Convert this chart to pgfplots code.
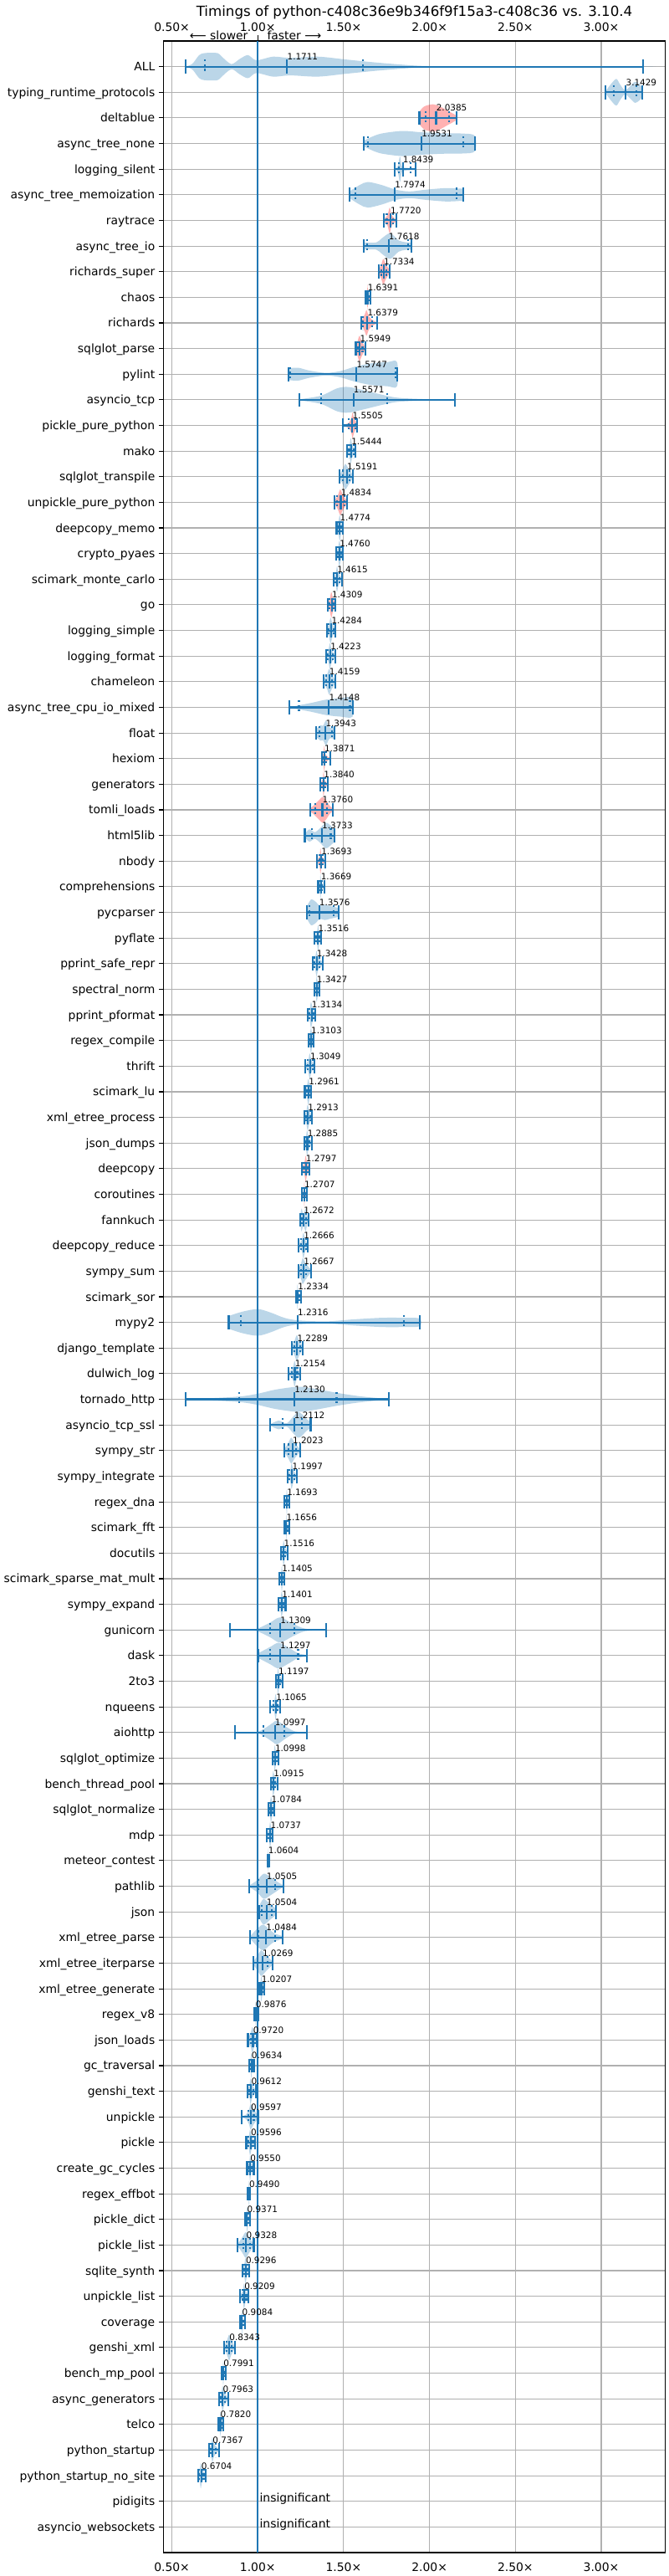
\documentclass[border=0pt]{standalone}
\usepackage{fontspec}
\setmainfont{DejaVu Sans}
\usepackage{pgfplots}
\pgfplotsset{compat=1.18}
\usepackage{pgfplotstable}
\definecolor{cz}{HTML}{1F77B4}
\definecolor{gridc}{HTML}{B0B0B0}
\definecolor{vred}{HTML}{FF0000}

% violin body: row, colour, list of value/halfwidth pairs (left to right)
\newcommand\vio[3]{%
  \gdef\vup{}\gdef\vdn{}%
  \foreach \vx/\vw in {#3}{%
    \pgfmathsetmacro\yu{#1-\vw}\pgfmathsetmacro\yd{#1+\vw}%
    \xdef\vup{\vup(\vx,\yu)}\xdef\vdn{(\vx,\yd)\vdn}%
  }%
  \edef\vtmp{\noexpand\addplot[draw=none, mark=none, fill=#2, fill opacity=0.3, smooth, forget plot] coordinates {\vup\vdn};}%
  \vtmp}

\pgfplotstableread{
r mn q1 md q3 mx lab
1 0.580 0.692 1.1711 1.612 3.242 1.1711
2 3.026 3.074 3.1429 3.203 3.240 3.1429
3 1.941 1.976 2.0385 2.114 2.157 2.0385
4 1.615 1.642 1.9531 2.195 2.264 1.9531
5 1.798 1.822 1.8439 1.892 1.920 1.8439
6 1.534 1.568 1.7974 2.157 2.195 1.7974
7 1.732 1.751 1.7720 1.789 1.808 1.7720
8 1.617 1.638 1.7618 1.873 1.894 1.7618
9 1.704 1.718 1.7334 1.748 1.770 1.7334
10 1.627 1.635 1.6391 1.648 1.656 1.6391
11 1.603 1.613 1.6379 1.665 1.695 1.6379
12 1.571 1.582 1.5949 1.610 1.627 1.5949
13 1.180 1.187 1.5747 1.800 1.811 1.5747
14 1.242 1.369 1.5571 1.752 2.147 1.5571
15 1.495 1.530 1.5505 1.567 1.578 1.5505
16 1.521 1.532 1.5444 1.558 1.570 1.5444
17 1.476 1.497 1.5191 1.536 1.554 1.5191
18 1.448 1.462 1.4834 1.503 1.521 1.4834
19 1.459 1.468 1.4774 1.487 1.496 1.4774
20 1.456 1.466 1.4760 1.487 1.496 1.4760
21 1.443 1.452 1.4615 1.475 1.489 1.4615
22 1.407 1.418 1.4309 1.443 1.453 1.4309
23 1.401 1.414 1.4284 1.442 1.453 1.4284
24 1.399 1.410 1.4223 1.436 1.451 1.4223
25 1.383 1.398 1.4159 1.432 1.451 1.4159
26 1.183 1.240 1.4148 1.537 1.552 1.4148
27 1.339 1.357 1.3943 1.433 1.448 1.3943
28 1.372 1.380 1.3871 1.400 1.422 1.3871
29 1.365 1.373 1.3840 1.395 1.409 1.3840
30 1.304 1.335 1.3760 1.403 1.437 1.3760
31 1.274 1.314 1.3733 1.425 1.448 1.3733
32 1.346 1.357 1.3693 1.380 1.393 1.3693
33 1.352 1.360 1.3669 1.375 1.388 1.3669
34 1.284 1.302 1.3576 1.443 1.471 1.3576
35 1.331 1.342 1.3516 1.361 1.370 1.3516
36 1.320 1.332 1.3428 1.360 1.380 1.3428
37 1.328 1.336 1.3427 1.351 1.360 1.3427
38 1.289 1.300 1.3134 1.325 1.336 1.3134
39 1.294 1.302 1.3103 1.318 1.326 1.3103
40 1.278 1.292 1.3049 1.318 1.331 1.3049
41 1.274 1.285 1.2961 1.304 1.312 1.2961
42 1.270 1.281 1.2913 1.304 1.317 1.2913
43 1.270 1.279 1.2885 1.300 1.314 1.2885
44 1.257 1.269 1.2797 1.290 1.302 1.2797
45 1.257 1.264 1.2707 1.278 1.286 1.2707
46 1.245 1.256 1.2672 1.282 1.297 1.2672
47 1.239 1.253 1.2666 1.280 1.292 1.2666
48 1.236 1.252 1.2667 1.282 1.312 1.2667
49 1.221 1.227 1.2334 1.242 1.252 1.2334
50 0.831 0.901 1.2316 1.851 1.943 1.2316
51 1.197 1.213 1.2289 1.246 1.263 1.2289
52 1.180 1.200 1.2154 1.230 1.248 1.2154
53 0.578 0.891 1.2130 1.459 1.763 1.2130
54 1.071 1.143 1.2112 1.255 1.308 1.2112
55 1.153 1.180 1.2023 1.222 1.248 1.2023
56 1.172 1.186 1.1997 1.212 1.226 1.1997
57 1.156 1.162 1.1693 1.175 1.182 1.1693
58 1.156 1.161 1.1656 1.172 1.182 1.1656
59 1.133 1.143 1.1516 1.161 1.172 1.1516
60 1.125 1.133 1.1405 1.146 1.153 1.1405
61 1.120 1.131 1.1401 1.150 1.162 1.1401
62 0.838 1.070 1.1309 1.213 1.398 1.1309
63 1.005 1.073 1.1297 1.235 1.284 1.1297
64 1.104 1.112 1.1197 1.130 1.145 1.1197
65 1.072 1.093 1.1065 1.117 1.130 1.1065
66 0.867 1.031 1.0997 1.156 1.286 1.0997
67 1.085 1.092 1.0998 1.109 1.119 1.0998
68 1.075 1.083 1.0915 1.102 1.114 1.0915
69 1.060 1.069 1.0784 1.088 1.098 1.0784
70 1.054 1.064 1.0737 1.080 1.086 1.0737
71 1.056 1.058 1.0604 1.064 1.069 1.0604
72 0.948 1.003 1.0505 1.101 1.150 1.0505
73 1.007 1.021 1.0504 1.081 1.106 1.0504
74 0.957 1.005 1.0484 1.100 1.145 1.0484
75 0.973 1.000 1.0269 1.057 1.087 1.0269
76 1.009 1.014 1.0207 1.030 1.038 1.0207
77 0.981 0.984 0.9876 0.994 1.003 0.9876
78 0.943 0.958 0.9720 0.982 0.992 0.9720
79 0.948 0.955 0.9634 0.970 0.977 0.9634
80 0.940 0.950 0.9612 0.975 0.989 0.9612
81 0.905 0.945 0.9597 0.977 1.002 0.9597
82 0.933 0.945 0.9596 0.972 0.985 0.9596
83 0.938 0.946 0.9550 0.966 0.977 0.9550
84 0.940 0.944 0.9490 0.953 0.957 0.9490
85 0.924 0.931 0.9371 0.946 0.957 0.9371
86 0.884 0.915 0.9328 0.955 0.977 0.9328
87 0.909 0.920 0.9296 0.940 0.951 0.9296
88 0.898 0.910 0.9209 0.933 0.946 0.9209
89 0.898 0.903 0.9084 0.915 0.924 0.9084
90 0.805 0.820 0.8343 0.850 0.866 0.8343
91 0.788 0.793 0.7991 0.806 0.814 0.7991
92 0.776 0.786 0.7963 0.810 0.830 0.7963
93 0.771 0.776 0.7820 0.790 0.800 0.7820
94 0.717 0.727 0.7367 0.755 0.773 0.7367
95 0.651 0.660 0.6704 0.685 0.699 0.6704
}\stats

\begin{document}
\begin{tikzpicture}
\begin{axis}[
  name=ax,
  scale only axis, width=432.4pt, height=2161.4pt,
  xmin=0.45, xmax=3.374, ymin=0, ymax=98, y dir=reverse,
  xtick={0.5,1,1.5,2,2.5,3},
  xticklabels={0.50×,1.00×,1.50×,2.00×,2.50×,3.00×},
  ytick={1,...,97},
  yticklabels={ALL, typing\_runtime\_protocols, deltablue, async\_tree\_none, logging\_silent, async\_tree\_memoization, raytrace, async\_tree\_io, richards\_super, chaos, richards, sqlglot\_parse, pylint, asyncio\_tcp, pickle\_pure\_python, mako, sqlglot\_transpile, unpickle\_pure\_python, deepcopy\_memo, crypto\_pyaes, scimark\_monte\_carlo, go, logging\_simple, logging\_format, chameleon, async\_tree\_cpu\_io\_mixed, float, hexiom, generators, tomli\_loads, html5lib, nbody, comprehensions, pycparser, pyflate, pprint\_safe\_repr, spectral\_norm, pprint\_pformat, regex\_compile, thrift, scimark\_lu, xml\_etree\_process, json\_dumps, deepcopy, coroutines, fannkuch, deepcopy\_reduce, sympy\_sum, scimark\_sor, mypy2, django\_template, dulwich\_log, tornado\_http, asyncio\_tcp\_ssl, sympy\_str, sympy\_integrate, regex\_dna, scimark\_fft, docutils, scimark\_sparse\_mat\_mult, sympy\_expand, gunicorn, dask, 2to3, nqueens, aiohttp, sqlglot\_optimize, bench\_thread\_pool, sqlglot\_normalize, mdp, meteor\_contest, pathlib, json, xml\_etree\_parse, xml\_etree\_iterparse, xml\_etree\_generate, regex\_v8, json\_loads, gc\_traversal, genshi\_text, unpickle, pickle, create\_gc\_cycles, regex\_effbot, pickle\_dict, pickle\_list, sqlite\_synth, unpickle\_list, coverage, genshi\_xml, bench\_mp\_pool, async\_generators, telco, python\_startup, python\_startup\_no\_site, pidigits, asyncio\_websockets},
  grid=major, major grid style={draw=gridc, line width=0.8pt},
  axis line style={line width=0.8pt, black},
  xtick style={draw=none}, xtick align=inside,
  ytick pos=left, xtick pos=left,
  ytick style={draw=black, line width=0.8pt}, ytick align=outside,
  major tick length=3.5pt,
  tick label style={font=\fontsize{10}{12}\selectfont},
  xticklabel style={anchor=north, inner sep=0pt, yshift=-8.6pt},
  yticklabel style={anchor=base east, inner sep=0pt, xshift=-3.5pt, yshift=-3.6pt},
]
% violin bodies
\vio{1}{cz}{0.580/0.005, 0.619/0.11, 0.659/0.45, 0.692/0.53, 0.765/0.53, 0.789/0.4, 0.846/0.1, 0.895/0.3, 0.943/0.45, 0.992/0.25, 1.09/0.39, 1.187/0.34, 1.349/0.39, 1.511/0.28, 1.674/0.17, 1.836/0.08, 1.95/0.03, 2.1/0.01, 2.5/0.005, 3.242/0.005}
\vio{2}{cz}{3.026/0.05, 3.06/0.35, 3.088/0.52, 3.11/0.3, 3.138/0.08, 3.17/0.25, 3.196/0.41, 3.225/0.3, 3.240/0.12}
\vio{3}{vred}{1.941/0.25, 1.97/0.45, 2.02/0.53, 2.06/0.45, 2.10/0.3, 2.157/0.08}
\vio{4}{cz}{1.615/0.1, 1.66/0.25, 1.72/0.39, 1.84/0.49, 1.95/0.44, 2.07/0.4, 2.19/0.39, 2.264/0.3}
\vio{5}{cz}{1.798/0.02, 1.815/0.1, 1.828/0.5, 1.84/0.1, 1.87/0.05, 1.92/0.03}
\vio{6}{cz}{1.534/0.13, 1.593/0.38, 1.641/0.5, 1.722/0.38, 1.803/0.2, 1.884/0.13, 1.98/0.2, 2.094/0.26, 2.175/0.24, 2.195/0.2}
\vio{7}{vred}{1.732/0.03, 1.755/0.2, 1.768/0.5, 1.78/0.2, 1.808/0.02}
\vio{8}{cz}{1.617/0.14, 1.690/0.14, 1.722/0.3, 1.771/0.5, 1.82/0.22, 1.86/0.15, 1.894/0.12}
\vio{9}{vred}{1.704/0.05, 1.72/0.3, 1.731/0.5, 1.745/0.3, 1.77/0.03}
\vio{10}{vred}{1.627/0.02, 1.636/0.15, 1.639/0.5, 1.643/0.15, 1.656/0.01}
\vio{11}{vred}{1.603/0.05, 1.624/0.35, 1.633/0.5, 1.648/0.25, 1.67/0.1, 1.695/0.02}
\vio{12}{vred}{1.571/0.05, 1.584/0.35, 1.592/0.5, 1.605/0.3, 1.627/0.02}
\vio{13}{cz}{1.180/0.23, 1.236/0.25, 1.301/0.14, 1.398/0.05, 1.48/0.12, 1.56/0.28, 1.657/0.42, 1.755/0.47, 1.811/0.47}
\vio{14}{cz}{1.242/0.02, 1.368/0.16, 1.463/0.45, 1.528/0.5, 1.625/0.36, 1.722/0.2, 1.803/0.09, 1.884/0.05, 2.0/0.02, 2.147/0.005}
\vio{15}{vred}{1.495/0.02, 1.53/0.1, 1.545/0.3, 1.552/0.5, 1.56/0.3, 1.578/0.05}
\vio{16}{cz}{1.521/0.03, 1.535/0.25, 1.541/0.5, 1.55/0.25, 1.570/0.03}
\vio{17}{cz}{1.476/0.05, 1.495/0.3, 1.51/0.5, 1.525/0.35, 1.554/0.05}
\vio{18}{vred}{1.448/0.05, 1.468/0.3, 1.48/0.5, 1.495/0.3, 1.521/0.03}
\vio{19}{cz}{1.459/0.03, 1.47/0.25, 1.477/0.5, 1.485/0.25, 1.496/0.03}
\vio{20}{cz}{1.456/0.03, 1.468/0.25, 1.475/0.5, 1.484/0.25, 1.496/0.03}
\vio{21}{cz}{1.443/0.03, 1.455/0.25, 1.461/0.5, 1.47/0.25, 1.489/0.03}
\vio{22}{vred}{1.407/0.03, 1.42/0.25, 1.428/0.5, 1.438/0.25, 1.453/0.03}
\vio{23}{cz}{1.401/0.03, 1.415/0.25, 1.424/0.5, 1.435/0.25, 1.453/0.03}
\vio{24}{cz}{1.399/0.03, 1.412/0.25, 1.42/0.5, 1.43/0.25, 1.451/0.03}
\vio{25}{cz}{1.383/0.05, 1.405/0.3, 1.415/0.5, 1.43/0.3, 1.451/0.05}
\vio{26}{cz}{1.183/0.005, 1.240/0.08, 1.316/0.18, 1.397/0.3, 1.479/0.36, 1.552/0.36}
\vio{27}{cz}{1.339/0.14, 1.365/0.3, 1.38/0.28, 1.397/0.49, 1.41/0.3, 1.422/0.2, 1.448/0.2}
\vio{28}{vred}{1.372/0.02, 1.382/0.2, 1.387/0.5, 1.395/0.15, 1.422/0.02}
\vio{29}{vred}{1.365/0.02, 1.378/0.2, 1.383/0.5, 1.39/0.15, 1.409/0.02}
\vio{30}{vred}{1.304/0.05, 1.33/0.2, 1.36/0.4, 1.376/0.5, 1.395/0.4, 1.42/0.15, 1.437/0.05}
\vio{31}{cz}{1.274/0.05, 1.300/0.24, 1.333/0.13, 1.365/0.3, 1.397/0.5, 1.430/0.35, 1.448/0.2}
\vio{32}{vred}{1.346/0.02, 1.36/0.2, 1.365/0.5, 1.372/0.2, 1.393/0.02}
\vio{33}{cz}{1.352/0.02, 1.362/0.2, 1.365/0.5, 1.37/0.2, 1.388/0.02}
\vio{34}{cz}{1.284/0.2, 1.31/0.5, 1.34/0.4, 1.36/0.25, 1.39/0.3, 1.42/0.25, 1.471/0.15}
\vio{35}{cz}{1.331/0.03, 1.345/0.25, 1.351/0.5, 1.358/0.25, 1.370/0.03}
\vio{36}{cz}{1.320/0.03, 1.335/0.25, 1.342/0.5, 1.352/0.25, 1.380/0.03}
\vio{37}{cz}{1.328/0.03, 1.338/0.25, 1.343/0.5, 1.35/0.25, 1.360/0.03}
\vio{38}{cz}{1.289/0.03, 1.303/0.25, 1.31/0.5, 1.32/0.25, 1.336/0.03}
\vio{39}{cz}{1.294/0.03, 1.304/0.25, 1.31/0.5, 1.316/0.25, 1.326/0.03}
\vio{40}{cz}{1.278/0.03, 1.295/0.25, 1.302/0.5, 1.312/0.25, 1.331/0.03}
\vio{41}{cz}{1.274/0.03, 1.287/0.25, 1.294/0.5, 1.302/0.25, 1.312/0.03}
\vio{42}{cz}{1.270/0.03, 1.283/0.25, 1.29/0.5, 1.3/0.25, 1.317/0.03}
\vio{43}{cz}{1.270/0.03, 1.281/0.25, 1.287/0.5, 1.296/0.25, 1.314/0.03}
\vio{44}{vred}{1.257/0.03, 1.272/0.25, 1.279/0.5, 1.287/0.25, 1.302/0.03}
\vio{45}{vred}{1.257/0.02, 1.268/0.15, 1.271/0.5, 1.275/0.15, 1.286/0.02}
\vio{46}{cz}{1.245/0.03, 1.255/0.45, 1.265/0.2, 1.279/0.45, 1.288/0.15, 1.297/0.03}
\vio{47}{cz}{1.239/0.03, 1.258/0.25, 1.265/0.5, 1.275/0.25, 1.292/0.03}
\vio{48}{cz}{1.236/0.05, 1.252/0.3, 1.262/0.5, 1.28/0.3, 1.312/0.03}
\vio{49}{cz}{1.221/0.02, 1.228/0.2, 1.231/0.5, 1.235/0.2, 1.252/0.02}
\vio{50}{cz}{0.831/0.25, 0.911/0.42, 1.0/0.52, 1.073/0.39, 1.154/0.18, 1.235/0.08, 1.398/0.04, 1.560/0.12, 1.722/0.18, 1.852/0.18, 1.943/0.15}
\vio{51}{cz}{1.197/0.05, 1.215/0.3, 1.227/0.5, 1.24/0.3, 1.263/0.03}
\vio{52}{cz}{1.180/0.03, 1.205/0.25, 1.214/0.5, 1.225/0.25, 1.248/0.03}
\vio{53}{cz}{0.578/0.03, 0.749/0.05, 0.911/0.12, 1.008/0.23, 1.105/0.38, 1.235/0.49, 1.333/0.41, 1.463/0.25, 1.593/0.12, 1.763/0.005}
\vio{54}{cz}{1.071/0.02, 1.122/0.17, 1.170/0.07, 1.235/0.5, 1.284/0.23, 1.308/0.1}
\vio{55}{cz}{1.153/0.03, 1.178/0.3, 1.195/0.5, 1.215/0.3, 1.248/0.03}
\vio{56}{cz}{1.172/0.03, 1.19/0.25, 1.197/0.5, 1.207/0.25, 1.226/0.03}
\vio{57}{cz}{1.156/0.02, 1.165/0.2, 1.169/0.5, 1.173/0.2, 1.182/0.02}
\vio{58}{cz}{1.156/0.02, 1.163/0.2, 1.166/0.5, 1.17/0.2, 1.182/0.02}
\vio{59}{cz}{1.133/0.03, 1.145/0.25, 1.15/0.5, 1.158/0.25, 1.172/0.03}
\vio{60}{cz}{1.125/0.02, 1.135/0.2, 1.14/0.5, 1.145/0.2, 1.153/0.02}
\vio{61}{cz}{1.120/0.03, 1.133/0.25, 1.139/0.5, 1.147/0.25, 1.162/0.03}
\vio{62}{cz}{0.838/0.005, 0.96/0.01, 1.008/0.08, 1.073/0.29, 1.130/0.49, 1.203/0.25, 1.276/0.05, 1.398/0.005}
\vio{63}{cz}{1.005/0.1, 1.073/0.34, 1.122/0.5, 1.187/0.28, 1.235/0.09, 1.284/0.02}
\vio{64}{cz}{1.104/0.03, 1.113/0.25, 1.118/0.5, 1.125/0.25, 1.145/0.03}
\vio{65}{cz}{1.072/0.02, 1.095/0.2, 1.104/0.5, 1.112/0.2, 1.130/0.02}
\vio{66}{cz}{0.867/0.005, 0.992/0.02, 1.04/0.16, 1.089/0.38, 1.113/0.46, 1.170/0.2, 1.218/0.04, 1.286/0.005}
\vio{67}{cz}{1.085/0.03, 1.094/0.25, 1.099/0.5, 1.106/0.25, 1.119/0.03}
\vio{68}{cz}{1.075/0.03, 1.085/0.25, 1.09/0.5, 1.098/0.25, 1.114/0.03}
\vio{69}{cz}{1.060/0.03, 1.071/0.25, 1.077/0.5, 1.085/0.25, 1.098/0.03}
\vio{70}{cz}{1.054/0.03, 1.066/0.25, 1.072/0.5, 1.078/0.25, 1.086/0.03}
\vio{71}{cz}{1.056/0.02, 1.059/0.2, 1.060/0.5, 1.062/0.2, 1.069/0.02}
\vio{72}{cz}{0.948/0.02, 0.994/0.22, 1.035/0.49, 1.075/0.35, 1.124/0.13, 1.150/0.03}
\vio{73}{cz}{1.007/0.2, 1.033/0.5, 1.073/0.3, 1.106/0.1}
\vio{74}{cz}{0.957/0.05, 0.99/0.3, 1.03/0.5, 1.07/0.3, 1.1/0.15, 1.145/0.05}
\vio{75}{cz}{0.973/0.05, 1.0/0.3, 1.02/0.5, 1.05/0.3, 1.087/0.05}
\vio{76}{cz}{1.009/0.03, 1.016/0.25, 1.02/0.5, 1.027/0.25, 1.038/0.03}
\vio{77}{cz}{0.981/0.02, 0.985/0.2, 0.987/0.5, 0.99/0.2, 1.003/0.02}
\vio{78}{cz}{0.943/0.05, 0.96/0.3, 0.968/0.5, 0.978/0.3, 0.992/0.03}
\vio{79}{cz}{0.948/0.02, 0.958/0.2, 0.962/0.5, 0.967/0.2, 0.977/0.02}
\vio{80}{cz}{0.940/0.03, 0.952/0.25, 0.958/0.5, 0.968/0.25, 0.989/0.03}
\vio{81}{cz}{0.905/0.02, 0.93/0.08, 0.95/0.3, 0.958/0.5, 0.975/0.3, 1.002/0.05}
\vio{82}{cz}{0.933/0.03, 0.948/0.25, 0.955/0.5, 0.965/0.25, 0.985/0.03}
\vio{83}{cz}{0.938/0.02, 0.95/0.2, 0.955/0.5, 0.962/0.2, 0.977/0.02}
\vio{84}{cz}{0.940/0.02, 0.946/0.2, 0.949/0.5, 0.952/0.2, 0.957/0.02}
\vio{85}{cz}{0.924/0.02, 0.934/0.2, 0.938/0.5, 0.944/0.2, 0.957/0.02}
\vio{86}{cz}{0.884/0.05, 0.91/0.3, 0.93/0.5, 0.95/0.3, 0.977/0.03}
\vio{87}{cz}{0.909/0.03, 0.922/0.25, 0.928/0.5, 0.936/0.25, 0.951/0.03}
\vio{88}{cz}{0.898/0.03, 0.914/0.25, 0.92/0.5, 0.928/0.25, 0.946/0.03}
\vio{89}{cz}{0.898/0.02, 0.905/0.2, 0.908/0.5, 0.912/0.2, 0.924/0.02}
\vio{90}{cz}{0.805/0.05, 0.822/0.3, 0.833/0.5, 0.845/0.3, 0.866/0.03}
\vio{91}{cz}{0.788/0.02, 0.796/0.2, 0.799/0.5, 0.803/0.2, 0.814/0.02}
\vio{92}{cz}{0.776/0.05, 0.79/0.3, 0.795/0.5, 0.805/0.25, 0.830/0.02}
\vio{93}{cz}{0.771/0.02, 0.779/0.2, 0.782/0.5, 0.786/0.2, 0.800/0.02}
\vio{94}{cz}{0.717/0.03, 0.73/0.25, 0.736/0.5, 0.745/0.25, 0.773/0.03}
\vio{95}{cz}{0.651/0.03, 0.663/0.25, 0.668/0.5, 0.676/0.25, 0.699/0.03}

% reference line at 1.0
\addplot[cz, line width=1.5pt, mark=none, forget plot] coordinates {(1,0) (1,98)};

% min-max lines
\addplot[draw=none, mark=none, forget plot, error bars/.cd, x dir=both, x explicit, error mark=none,
  error bar style={draw=cz, line width=1.5pt, solid}]
  table[x=md, y=r, x error plus expr=\thisrow{mx}-\thisrow{md}, x error minus expr=\thisrow{md}-\thisrow{mn}] {\stats};
% caps and medians
\addplot[only marks, color=cz, forget plot, mark=|, mark size=6pt, mark options={cz, line width=1.5pt, solid}] table[x=mn, y=r] {\stats};
\addplot[only marks, color=cz, forget plot, mark=|, mark size=6pt, mark options={cz, line width=1.5pt, solid}] table[x=mx, y=r] {\stats};
\addplot[only marks, color=cz, forget plot, mark=|, mark size=6pt, mark options={cz, line width=1.5pt, solid}] table[x=md, y=r] {\stats};
% quantiles
\addplot[only marks, color=cz, forget plot, mark=|, mark size=6pt, mark options={cz, line width=1.5pt, dash pattern=on 1.5pt off 2.5pt}] table[x=q1, y=r] {\stats};
\addplot[only marks, color=cz, forget plot, mark=|, mark size=6pt, mark options={cz, line width=1.5pt, dash pattern=on 1.5pt off 2.5pt}] table[x=q3, y=r] {\stats};
% value labels
\addplot[draw=none, mark=none, forget plot, nodes near coords, point meta=explicit symbolic,
  nodes near coords style={anchor=base west, inner sep=0pt, font=\fontsize{7.5}{9}\selectfont, text=black, yshift=5.8pt}]
  table[x=md, y=r, meta=lab] {\stats};
\addplot[draw=none, mark=none, forget plot, nodes near coords, point meta=explicit symbolic,
  nodes near coords style={anchor=base west, inner sep=0pt, font=\fontsize{10}{12}\selectfont, text=black, xshift=1.5pt, yshift=-0.7pt}]
  coordinates {(1,96) [insignificant] (1,97) [insignificant]};
\end{axis}

\begin{axis}[
  name=ax2, at={(ax.south west)}, anchor=south west,
  scale only axis, width=432.4pt, height=2161.4pt,
  xmin=0.45, xmax=3.374, ymin=0, ymax=1,
  xtick={0.5,1,1.5,2,2.5,3},
  xticklabels={0.50×,1.00×,1.50×,2.00×,2.50×,3.00×},
  xticklabel pos=upper, ytick=\empty,
  axis line style={draw=none},
  xtick style={draw=none}, xtick align=inside,
  tick label style={font=\fontsize{10}{12}\selectfont},
  xticklabel style={anchor=base, inner sep=0pt, yshift=8.4pt},
]
\addplot[draw=none, mark=none] coordinates {(1,0.5)};
\end{axis}

\node[anchor=base, inner sep=0pt, font=\fontsize{12}{14}\selectfont] at ([yshift=21.4pt]ax2.north) {Timings of python-c408c36e9b346f9f15a3-c408c36 vs. 3.10.4};
\node[anchor=base east, inner sep=0pt, font=\fontsize{10}{12}\selectfont] at ([xshift=73.0pt, yshift=1.2pt]ax2.north west) {⟵ slower};
\node[anchor=base west, inner sep=0pt, font=\fontsize{10}{12}\selectfont] at ([xshift=89.3pt, yshift=1.2pt]ax2.north west) {faster ⟶};
\draw[line width=0.8pt] ([xshift=81.4pt]ax2.north west) -- ++(0,4.8pt);

\pgfresetboundingbox
\path[use as bounding box] ([xshift=-140.6pt, yshift=-20.2pt]ax2.south west) rectangle ([xshift=2.95pt, yshift=35.3pt]ax2.north east);
\end{tikzpicture}
\end{document}
